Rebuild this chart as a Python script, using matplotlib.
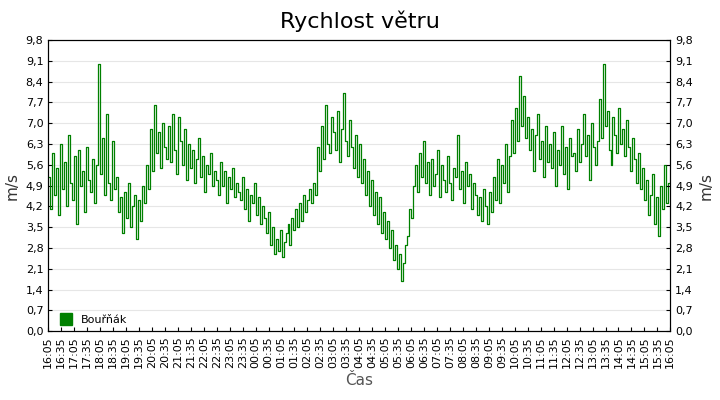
import matplotlib
matplotlib.use("Agg")
import matplotlib.pyplot as plt
import numpy as np
import pandas as pd

# 5-minute wind speeds (m/s) from 16:05 to 16:05 next day
speed = [
 5.2,4.1,6.0,4.6,5.5,3.9,6.3,4.8,5.7,4.2,6.6,5.0,   # 16:05
 4.4,5.9,3.6,6.1,4.9,5.4,4.0,6.2,5.1,4.7,5.8,4.3,   # 17:05
 5.6,9.0,5.3,6.5,4.6,7.3,5.0,4.4,6.4,4.8,5.2,4.0,   # 18:05
 4.5,3.3,4.7,3.8,5.0,3.5,4.2,4.6,3.1,4.4,3.7,4.9,   # 19:05
 4.3,5.6,4.8,6.8,5.4,7.6,6.0,6.7,5.5,7.0,6.2,5.8,   # 20:05
 6.9,5.7,7.3,6.1,5.3,7.2,6.4,5.6,6.8,5.1,6.3,5.5,   # 21:05
 6.1,5.0,5.8,6.5,5.2,5.9,4.7,5.6,5.3,6.0,4.9,5.4,   # 22:05
 5.1,4.6,5.7,4.9,5.4,4.3,5.2,4.8,5.5,4.5,5.0,4.7,   # 23:05
 4.4,5.2,4.1,4.8,3.7,4.6,4.3,5.0,3.9,4.5,3.6,4.2,   # 00:05
 3.8,3.3,4.0,2.9,3.5,2.6,3.1,2.7,3.4,2.5,3.0,3.3,   # 01:05
 3.6,2.9,3.8,3.4,4.1,3.5,4.3,3.7,4.6,4.0,4.4,4.8,   # 02:05
 4.3,5.0,4.6,6.2,5.4,6.9,5.8,7.6,6.3,6.0,7.2,6.7,   # 03:05
 6.1,7.4,5.7,6.8,8.0,6.4,5.9,7.1,6.2,5.5,6.6,5.2,   # 04:05
 6.3,5.0,5.8,4.6,5.4,4.2,5.1,3.9,4.7,3.6,4.5,3.3,   # 05:05
 4.0,3.1,3.7,2.8,3.4,2.4,2.9,2.1,2.6,1.7,2.3,2.9,   # 06:05
 3.2,4.1,3.8,4.9,5.6,4.7,6.0,5.2,6.4,5.0,5.7,4.6,   # 06:35
 5.8,4.9,5.3,6.1,4.5,5.6,5.1,4.7,5.9,5.0,4.4,5.5,   # 07:35
 5.2,6.6,4.8,5.4,4.3,5.7,4.9,5.3,4.1,5.0,4.6,3.9,   # 08:35
 4.5,3.7,4.8,4.2,3.6,4.7,4.0,5.2,4.4,5.8,4.3,5.6,   # 09:35
 5.0,6.3,4.7,5.9,7.1,6.0,7.5,6.4,8.6,6.9,7.9,6.5,   # 10:05
 7.2,6.1,6.8,5.4,6.6,7.3,5.8,6.4,5.2,6.9,5.7,6.3,   # 11:05
 5.5,6.7,4.9,6.1,5.6,6.9,5.3,6.2,4.8,6.5,5.9,6.0,   # 12:05
 5.4,6.8,5.7,6.3,7.3,5.9,6.6,5.1,7.0,6.2,5.6,6.4,   # 13:05
 7.8,6.5,9.0,6.9,7.4,6.1,5.6,7.2,6.6,6.0,7.5,6.3,   # 14:05
 6.8,5.9,7.1,6.2,5.4,6.5,5.8,5.0,6.0,4.8,5.5,4.4,   # 14:55
 5.1,3.9,4.6,5.3,3.6,4.5,3.2,4.9,4.1,5.6,4.3,5.0,   # 15:55
 5.0
]
n = len(speed)
start = pd.Timestamp("2024-01-01 16:05")
end = pd.Timestamp("2024-01-02 16:05")
times = pd.date_range(start, end, periods=n)
tick_times = pd.date_range(start, end, freq="30min")
tick_labels = [t.strftime("%H:%M") for t in tick_times]
yticks = [round(0.7 * i, 1) for i in range(15)]
ylabels = [f"{v:.1f}".replace(".", ",") for v in yticks]

fig = plt.figure(figsize=(7.2, 4.0), dpi=100)
ax = fig.add_axes([0.067, 0.172, 0.864, 0.728])
ax.step(times, speed, where="post", color="#008000", lw=0.9)
ax.set_xlim(start, end)
ax.set_ylim(0, 9.8)
ax.set_yticks(yticks)
ax.set_yticklabels(ylabels, fontsize=8)
ax.set_xticks(tick_times)
ax.set_xticklabels(tick_labels, rotation=90, fontsize=8)
ax.grid(axis="y", color="#e6e6e6", lw=0.8)
ax.set_axisbelow(True)
ax.tick_params(direction="in", length=3)
ax.set_ylabel("m/s", fontsize=11, color="#333333")
ax.set_xlabel("Čas", fontsize=11, color="#555555")
ax2 = ax.twinx()
ax2.set_ylim(0, 9.8)
ax2.set_yticks(yticks)
ax2.set_yticklabels(ylabels, fontsize=8)
ax2.tick_params(direction="in", length=3)
ax2.set_ylabel("m/s", fontsize=11, color="#333333")
fig.suptitle("Rychlost větru", fontsize=16, y=0.975)
ax.plot([], [], "s", color="#008000", markersize=9, label="Bouřňák")
ax.legend(loc="lower left", frameon=False, fontsize=8, handletextpad=0.3,
          borderaxespad=0.2)
fig.savefig("out.png", dpi=100)
